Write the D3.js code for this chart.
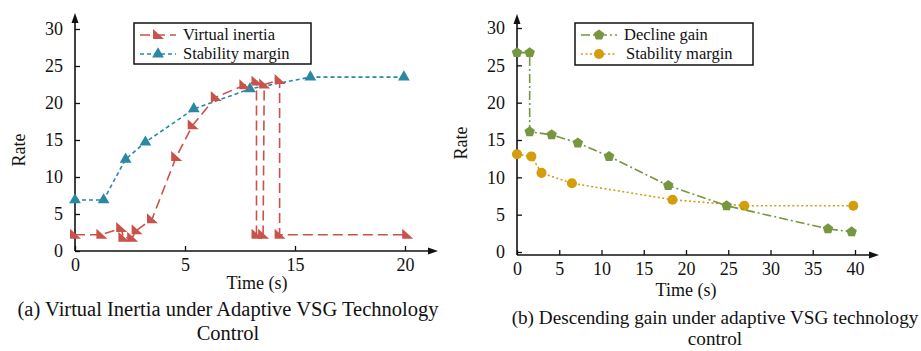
<!DOCTYPE html>
<html>
<head>
<meta charset="utf-8">
<script src="https://cdn.jsdelivr.net/npm/d3@7"></script>
<style>
  body { margin: 0; background: #fff; }
  text { font-family: "Liberation Serif", "Times New Roman", serif; fill: #111; }
</style>
</head>
<body>
<div id="chart"></div>
<script>
// (a) virtual inertia panel
const leftXTicks = [0, 5, 15, 20];
const inertiaT = [0, 1.2, 2.1, 2.2, 2.6, 2.8, 3.5, 4.6, 5.7, 7.8, 10.4, 11.5, 11.5, 12.1, 12.2, 13.6, 13.6, 20.1];
const inertiaV = [2.2, 2.2, 3.1, 1.8, 1.8, 2.8, 4.3, 12.7, 17.0, 20.8, 22.4, 22.9, 2.2, 2.2, 22.5, 23.1, 2.2, 2.2];
const marginAT = [0, 1.3, 2.3, 3.2, 5.8, 10.9, 15.7, 19.95];
const marginAV = [6.9, 6.9, 12.4, 14.7, 19.2, 21.9, 23.5, 23.5];

// (b) descending gain panel
const rightXTicks = [0, 5, 10, 15, 20, 25, 30, 35, 40];
const gainT = [0, 1.5, 1.5, 4.1, 7.2, 10.9, 17.9, 24.8, 36.8, 39.6];
const gainV = [26.7, 26.7, 16.1, 15.7, 14.6, 12.8, 8.9, 6.2, 3.1, 2.7];
const marginBT = [0, 1.7, 2.9, 6.5, 18.4, 26.9, 39.8];
const marginBV = [13.1, 12.8, 10.6, 9.2, 7.0, 6.2, 6.2];

const yTicks = [0, 5, 10, 15, 20, 25, 30];

const red = '#c9524a', blue = '#2b88a3', green = '#76963f', gold = '#d29e0c';

const svg = d3.select('#chart').append('svg')
    .attr('width', 921).attr('height', 351);

const zip = (t, v) => t.map((d, i) => ({ t: d, v: v[i] }));

// marker shapes
const flagTri = 'M-5,-6L6,4L-5,4Z';
const upTri = d3.symbol(d3.symbolTriangle, 60)();
function pentagon(r) {
    const pts = d3.range(5).map(i => {
        const a = -Math.PI / 2 + i * 2 * Math.PI / 5;
        return [r * Math.cos(a), r * Math.sin(a)];
    });
    return 'M' + pts.join('L') + 'Z';
}
const pent = pentagon(5.5);
const circ = d3.symbol(d3.symbolCircle, 80)();

function drawAxes(g, x, y, xTicks, x0, xArrow, yAxisY, yTop) {
    g.append('g')
        .attr('transform', `translate(${x0},0)`)
        .call(d3.axisLeft(y).tickValues(yTicks).tickSize(-5).tickSizeOuter(0).tickPadding(12))
        .call(a => a.select('.domain').remove())
        .call(a => a.selectAll('text').style('font-size', '18px'));
    g.append('g')
        .attr('transform', `translate(0,${yAxisY})`)
        .call(d3.axisBottom(x).tickValues(xTicks).tickSize(-5).tickSizeOuter(0).tickPadding(7))
        .call(a => a.select('.domain').remove())
        .call(a => a.selectAll('text').style('font-size', '18px'));
    g.selectAll('.tick line').attr('stroke', '#111').attr('stroke-width', 1.3);
    // axis lines with arrows
    g.append('line').attr('x1', x0).attr('x2', x0).attr('y1', yAxisY).attr('y2', yTop + 8)
        .attr('stroke', '#111').attr('stroke-width', 1.6);
    g.append('path').attr('d', `M${x0},${yTop}L${x0 - 3.5},${yTop + 10}L${x0 + 3.5},${yTop + 10}Z`).attr('fill', '#111');
    g.append('line').attr('x1', x0).attr('x2', xArrow - 8).attr('y1', yAxisY).attr('y2', yAxisY)
        .attr('stroke', '#111').attr('stroke-width', 1.6);
    g.append('path').attr('d', `M${xArrow},${yAxisY}L${xArrow - 10},${yAxisY - 3.5}L${xArrow - 10},${yAxisY + 3.5}Z`).attr('fill', '#111');
}

function series(g, x, y, data, color, dash, shape) {
    g.append('path').datum(data)
        .attr('d', d3.line().x(d => x(d.t)).y(d => y(d.v)))
        .attr('fill', 'none').attr('stroke', color).attr('stroke-width', 1.6)
        .attr('stroke-dasharray', dash);
    g.selectAll(null).data(data).enter().append('path')
        .attr('d', shape)
        .attr('transform', d => `translate(${x(d.t)},${y(d.v)})`)
        .attr('fill', color);
}

function legend(g, bx, by, bw, bh, items) {
    g.append('rect').attr('x', bx).attr('y', by).attr('width', bw).attr('height', bh)
        .attr('fill', '#fff').attr('stroke', '#111').attr('stroke-width', 1.5);
    items.forEach((it, i) => {
        const ly = by + 12 + i * 19;
        g.append('line').attr('x1', bx + 6).attr('x2', bx + 42).attr('y1', ly).attr('y2', ly)
            .attr('stroke', it.color).attr('stroke-width', 1.6).attr('stroke-dasharray', it.dash);
        g.append('path').attr('d', it.shape).attr('transform', `translate(${bx + 24},${ly})`).attr('fill', it.color);
        g.append('text').attr('x', bx + 49 + (it.dx || 0)).attr('y', ly + 5).style('font-size', '16.5px').text(it.label);
    });
}

// ---- panel (a)
const xa = d3.scaleLinear().domain(leftXTicks).range([75, 185, 295, 405]);
const ya = d3.scaleLinear().domain([0, 30]).range([251, 29]);
const ga = svg.append('g');
drawAxes(ga, xa, ya, leftXTicks, 75, 438, 251, 13);
series(ga, xa, ya, zip(marginAT, marginAV), blue, '4,3', upTri);
series(ga, xa, ya, zip(inertiaT, inertiaV), red, '10,5', flagTri);
legend(ga, 134, 23, 177, 41, [
    { label: 'Virtual inertia', color: red, dash: '10,5', shape: flagTri },
    { label: 'Stability margin', color: blue, dash: '4,3', shape: upTri }
]);
ga.append('text').attr('transform', 'translate(25,150) rotate(-90)')
    .attr('text-anchor', 'middle').style('font-size', '18px').text('Rate');
ga.append('text').attr('x', 257).attr('y', 289).attr('text-anchor', 'middle')
    .style('font-size', '18px').text('Time (s)');
ga.append('text').attr('x', 228).attr('y', 316).attr('text-anchor', 'middle')
    .style('font-size', '20.5px').text('(a) Virtual Inertia under Adaptive VSG Technology');
ga.append('text').attr('x', 228).attr('y', 340).attr('text-anchor', 'middle')
    .style('font-size', '20.5px').text('Control');

// ---- panel (b)
const xb = d3.scaleLinear().domain([0, 40]).range([517, 855]);
const yb = d3.scaleLinear().domain([0, 30]).range([252, 28]);
const gb = svg.append('g');
drawAxes(gb, xb, yb, rightXTicks, 517, 879, 255, 14);
series(gb, xb, yb, zip(marginBT, marginBV), gold, '2,2.5', circ);
series(gb, xb, yb, zip(gainT, gainV), green, '9,3,2,3', pent);
legend(gb, 575, 23, 178, 42, [
    { label: 'Decline gain', color: green, dash: '9,3,2,3', shape: pent },
    { label: 'Stability margin', color: gold, dash: '2,2.5', shape: circ, dx: 2 }
]);
gb.append('text').attr('transform', 'translate(467,143) rotate(-90)')
    .attr('text-anchor', 'middle').style('font-size', '18px').text('Rate');
gb.append('text').attr('x', 686).attr('y', 296).attr('text-anchor', 'middle')
    .style('font-size', '18px').text('Time (s)');
gb.append('text').attr('x', 715).attr('y', 324).attr('text-anchor', 'middle')
    .style('font-size', '19.2px').text('(b) Descending gain under adaptive VSG technology');
gb.append('text').attr('x', 715).attr('y', 345).attr('text-anchor', 'middle')
    .style('font-size', '19.2px').text('control');
</script>
</body>
</html>
